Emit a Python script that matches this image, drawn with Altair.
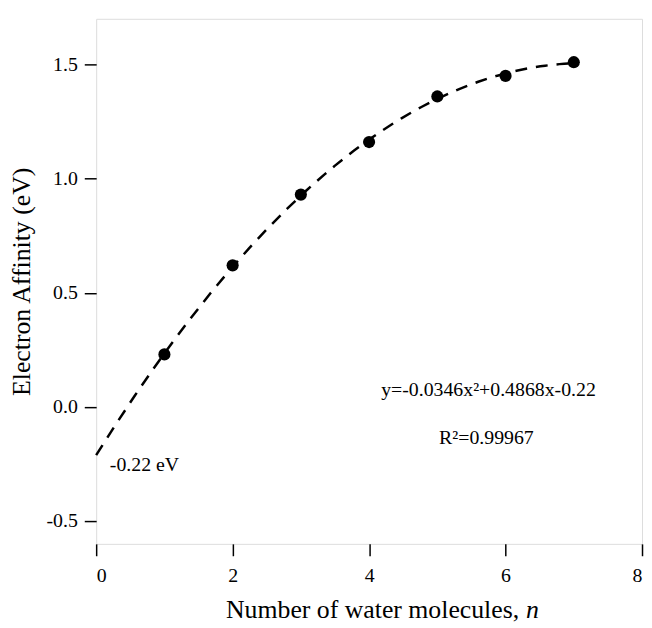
import altair as alt
import pandas as pd

# data
n_water = [1, 2, 3, 4, 5, 6, 7]
electron_affinity = [0.23, 0.62, 0.93, 1.16, 1.36, 1.45, 1.51]

ann_text = ["y=-0.0346x\u00b2+0.4868x-0.22", "R\u00b2=0.99967", "-0.22 eV"]
ann_x = [5.75, 5.72, 0.2]
ann_y = [0.075, -0.135, -0.255]
ann_align = ["center", "center", "left"]

FONT = "Liberation Serif"
W, H = 551, 530

pts = pd.DataFrame({"n": n_water, "ea": electron_affinity})
ann = pd.DataFrame({"t": ann_text, "x": ann_x, "y": ann_y, "a": ann_align})

xs = alt.Scale(domain=[0, 8], nice=False, zero=False)
ys = alt.Scale(domain=[-0.6, 1.7], nice=False, zero=False)

x_axis = alt.Axis(values=[0, 2, 4, 6, 8], format="d", title=None, domain=False, grid=False,
                  tickSize=12, tickWidth=1.5, tickColor="black",
                  labelFont=FONT, labelFontSize=20, labelColor="black", labelPadding=10)
y_axis = alt.Axis(values=[-0.5, 0, 0.5, 1.0, 1.5], title="Electron Affinity (eV)",
                  labelExpr="datum.value < 0 ? '-' + format(-datum.value, '.1f') : format(datum.value, '.1f')",
                  domain=False, grid=False, tickSize=12, tickWidth=1.5, tickColor="black",
                  labelFont=FONT, labelFontSize=20, labelColor="black", labelPadding=7,
                  titleFont=FONT, titleFontSize=26, titleFontWeight="normal", titleColor="black",
                  titlePadding=12)

base = alt.Chart(pts)

fit = base.transform_regression("n", "ea", method="poly", order=2, extent=[0, 7]).mark_line(
    color="black", strokeWidth=2.5, strokeDash=[12, 9]
).encode(x=alt.X("n:Q", scale=xs, axis=x_axis), y=alt.Y("ea:Q", scale=ys, axis=y_axis))

dots = base.mark_circle(color="black", opacity=1, size=150).encode(
    x=alt.X("n:Q", scale=xs), y=alt.Y("ea:Q", scale=ys)
)

t_center = alt.Chart(ann[ann.a == "center"]).mark_text(
    font=FONT, fontSize=20, color="black", baseline="middle", align="center"
).encode(x=alt.X("x:Q", scale=xs), y=alt.Y("y:Q", scale=ys), text="t:N")
t_left = alt.Chart(ann[ann.a == "left"]).mark_text(
    font=FONT, fontSize=20, color="black", baseline="middle", align="left"
).encode(x=alt.X("x:Q", scale=xs), y=alt.Y("y:Q", scale=ys), text="t:N")

title_main = alt.Chart(pd.DataFrame({"t": ["Number of water molecules,"]})).mark_text(
    font=FONT, fontSize=26, color="black", align="right", baseline="alphabetic"
).encode(x=alt.value(427), y=alt.value(H + 75), text="t:N")
title_n = alt.Chart(pd.DataFrame({"t": ["n"]})).mark_text(
    font=FONT, fontSize=26, color="black", align="left", baseline="alphabetic", fontStyle="italic"
).encode(x=alt.value(434), y=alt.value(H + 75), text="t:N")

chart = alt.layer(fit, dots, t_center, t_left, title_main, title_n).properties(
    width=W, height=H,
    autosize=alt.AutoSizeParams(type="none"),
    padding={"left": 89, "top": 8, "right": 2, "bottom": 80},
).configure_view(stroke="black", strokeWidth=1.5).configure(background="white")

chart.save("out.html", embed_options={"renderer": "svg", "actions": False})
